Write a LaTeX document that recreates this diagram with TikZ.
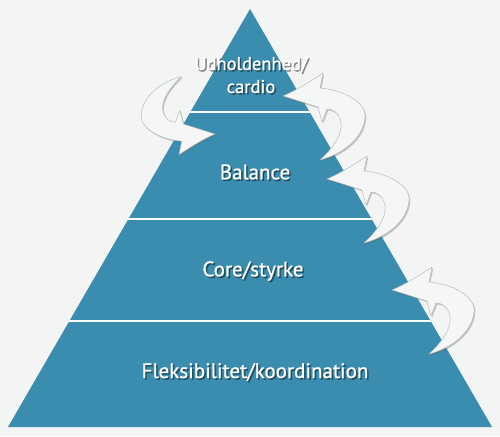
\documentclass[tikz,border=0pt]{standalone}
\usepackage{fontspec}
\setmainfont{PT Sans}
\newfontfamily\lblfont[FakeBold=0.9]{PT Sans}
\usetikzlibrary{shadows}
\definecolor{bg}{HTML}{F3F4F4}
\definecolor{pyr}{HTML}{3A8DAF}
\definecolor{arrfill}{HTML}{F5F6F6}
\definecolor{arredge}{HTML}{B8BBBC}
\tikzset{
  lbl/.style={text=white, font=\lblfont\fontsize{21}{23.5}\selectfont, align=center, inner sep=0pt},
  lblsmall/.style={lbl, font=\lblfont\fontsize{18.5}{23}\selectfont},
  lblshadow/.style={text=black, text opacity=0.4},
  divline/.style={draw=white, line width=2.2pt},
  arrowshape/.style={fill=arrfill, draw=arredge, line width=0.5pt, line join=round,
     drop shadow={shadow xshift=1.2pt, shadow yshift=-1.5pt, opacity=0.35, fill=black!60}},
  curvedarrow/.pic={
    \path[arrowshape] (0,0) .. controls (14,-6) and (28,-15) .. (40,-23)
      -- (37,-8)
      .. controls (60,-6) and (84,6) .. (82,22)
      .. controls (80,42) and (60,58) .. (37,64)
      .. controls (50,52) and (60,38) .. (58,26)
      .. controls (56,17) and (50,13) .. (44,13)
      -- (39,26) -- (35,11)
      .. controls (22,7) and (10,3) .. cycle;
  }
}
\begin{document}
\begin{tikzpicture}[x=1pt,y=-1pt]
\fill[bg] (0,0) rectangle (500,436);
\useasboundingbox (0,0) rectangle (500,436);
% pyramid
\coordinate (apex) at (250,9);
\coordinate (bl) at (8,427);
\coordinate (br) at (492,427);
\fill[pyr] (apex) -- (br) -- (bl) -- cycle;
\begin{scope}
\clip (apex) -- (br) -- (bl) -- cycle;
\coordinate (d1l) at (0,112); \coordinate (d1r) at (500,112);
\coordinate (d2l) at (0,219); \coordinate (d2r) at (500,219);
\coordinate (d3l) at (0,321); \coordinate (d3r) at (500,321);
\draw[divline] (d1l) -- (d1r);
\draw[divline] (d2l) -- (d2r);
\draw[divline] (d3l) -- (d3r);
\end{scope}
% arrows
\pic[shift={(215,134)}, rotate=180, scale=0.9] {curvedarrow};
\pic[shift={(283,96)}] {curvedarrow};
\pic[shift={(327,179)}] {curvedarrow};
\pic[shift={(392,290)}] {curvedarrow};
% labels (with soft text shadow)
\node[lblsmall, lblshadow] (cardio-sh) at (252.5,76.5) {Udholdenhed/\\cardio};
\node[lblsmall] (cardio) at (251,75) {Udholdenhed/\\cardio};
\node[lbl, lblshadow] (balance-sh) at (256.5,173.5) {Balance};
\node[lbl] (balance) at (255,172) {Balance};
\node[lbl, lblshadow] (core-sh) at (254.5,272.5) {Core/styrke};
\node[lbl] (core) at (253,271) {Core/styrke};
\node[lbl, lblshadow] (flex-sh) at (256.5,373.5) {Fleksibilitet/koordination};
\node[lbl] (flex) at (255,372) {Fleksibilitet/koordination};
\end{tikzpicture}
\end{document}
